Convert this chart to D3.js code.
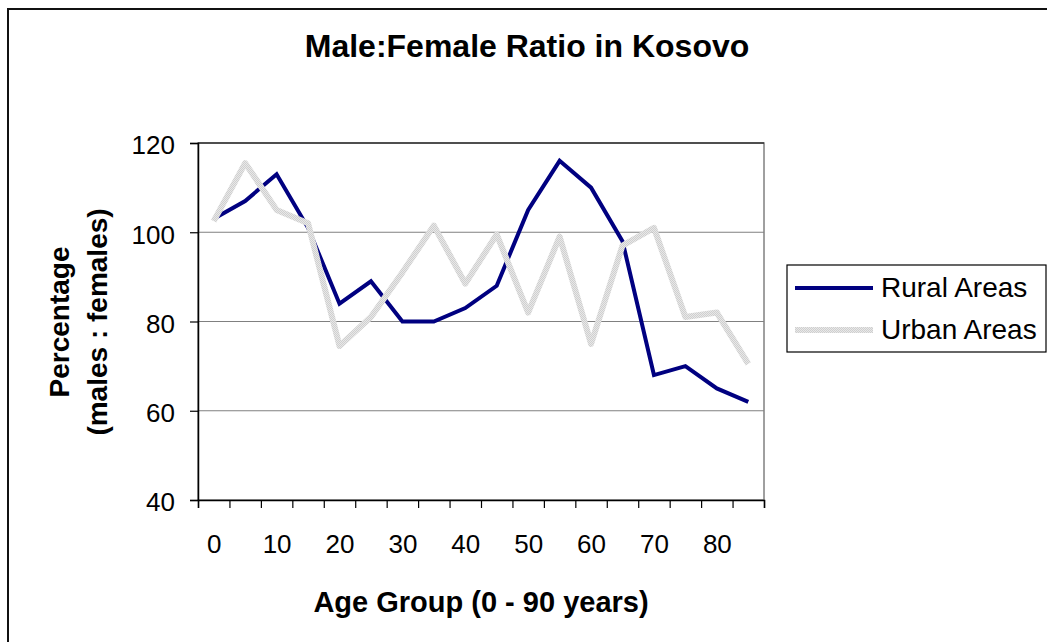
<!DOCTYPE html>
<html>
<head>
<meta charset="utf-8">
<script src="https://cdn.jsdelivr.net/npm/d3@7"></script>
<style>
  body { margin: 0; background: #fff; }
  text { font-family: "Liberation Sans", Arial, sans-serif; }
</style>
</head>
<body>
<div id="chart"></div>
<script>
const width = 1047
const height = 642
const margin = { left: 198, right: 283, top: 143, bottom: 142 }

// data
const ageGroups = [0, 5, 10, 15, 20, 25, 30, 35, 40, 45, 50, 55, 60, 65, 70, 75, 80, 85]
const rural = [103, 107, 113, 101, 84, 89, 80, 80, 83, 88, 105, 116, 110, 98, 68, 70, 65, 62]
const urban = [102.5, 115.5, 105, 102, 74.5, 81, 91, 101.5, 88.5, 99.5, 82, 99, 75, 97, 101, 81, 82, 70.5]
const yTicks = [40, 60, 80, 100, 120]
const xLabels = [0, 10, 20, 30, 40, 50, 60, 70, 80]
const seriesNames = ["Rural Areas", "Urban Areas"]
const seriesColors = ["#000080", "url(#hatch)"]

const svg = d3.select("#chart").append("svg").attr("width", width).attr("height", height)

// light grey dotted texture used by the urban series
const pat = svg.append("defs").append("pattern").attr("id", "hatch")
    .attr("patternUnits", "userSpaceOnUse").attr("width", 2).attr("height", 2)
pat.append("rect").attr("width", 2).attr("height", 2).attr("fill", "#e8e8e8")
pat.append("rect").attr("width", 1).attr("height", 1).attr("fill", "#cfcfcf")
pat.append("rect").attr("x", 1).attr("y", 1).attr("width", 1).attr("height", 1).attr("fill", "#cfcfcf")

// chart area frame (runs off the page on right and bottom)
svg.append("rect").attr("x", 8).attr("y", 9).attr("width", 1100).attr("height", 700)
    .attr("fill", "none").attr("stroke", "#111").attr("stroke-width", 2)

const plotW = width - margin.left - margin.right
const plotH = height - margin.top - margin.bottom

var x = d3.scalePoint().domain(ageGroups).range([margin.left, margin.left + plotW]).padding(0.5)
var xEdge = d3.scaleLinear().domain([0, ageGroups.length]).range([margin.left, margin.left + plotW])
var y = d3.scaleLinear().domain([40, 120]).range([margin.top + plotH, margin.top])

// gridlines
svg.append("g").selectAll("line")
    .data(yTicks.slice(1, -1))
    .join("line")
        .attr("x1", margin.left).attr("x2", margin.left + plotW)
        .attr("y1", d => y(d)).attr("y2", d => y(d))
        .attr("stroke", "#808080").attr("stroke-width", 1.2)

// plot area border
svg.append("rect").attr("x", margin.left).attr("y", margin.top).attr("width", plotW).attr("height", plotH)
    .attr("fill", "none").attr("stroke", "#808080").attr("stroke-width", 1.5)
svg.append("line").attr("x1", margin.left).attr("x2", margin.left + plotW)
    .attr("y1", margin.top).attr("y2", margin.top).attr("stroke", "#000").attr("stroke-width", 1.2)

// axes
const yGroup = svg.append("g").attr("transform", `translate(${margin.left},0)`)
    .call(d3.axisLeft(y).tickValues(yTicks).tickSize(8).tickPadding(15))
yGroup.select(".domain").attr("stroke", "#000").attr("stroke-width", 1.5)
yGroup.selectAll(".tick line").attr("stroke", "#000").attr("stroke-width", 1.2)
yGroup.selectAll("text").attr("font-size", 26).attr("fill", "#000").attr("dy", "0.42em")
    .attr("font-family", "Liberation Sans, Arial, sans-serif")

const xTickGroup = svg.append("g").attr("transform", `translate(0,${margin.top + plotH})`)
    .call(d3.axisBottom(xEdge).tickValues(d3.range(ageGroups.length + 1)).tickSize(8).tickFormat(""))
xTickGroup.select(".domain").attr("stroke", "#000").attr("stroke-width", 1.5)
xTickGroup.selectAll(".tick line").attr("stroke", "#000").attr("stroke-width", 1.2)

const xLabelGroup = svg.append("g").attr("transform", `translate(0,${margin.top + plotH})`)
    .call(d3.axisBottom(x).tickValues(xLabels).tickSize(0).tickPadding(35))
xLabelGroup.select(".domain").remove()
xLabelGroup.selectAll("text").attr("font-size", 26).attr("fill", "#000")
    .attr("font-family", "Liberation Sans, Arial, sans-serif")

// series lines
const line = d3.line().x((d, i) => x(ageGroups[i])).y(d => y(d))

svg.append("path").datum(rural)
    .attr("d", line).attr("fill", "none")
    .attr("stroke", seriesColors[0]).attr("stroke-width", 4).attr("stroke-linejoin", "miter")
svg.append("path").datum(urban)
    .attr("d", line).attr("fill", "none")
    .attr("stroke", seriesColors[1]).attr("stroke-width", 6).attr("stroke-linejoin", "round")

// title and axis titles
svg.append("text").text("Male:Female Ratio in Kosovo")
    .attr("x", 527).attr("y", 57).attr("text-anchor", "middle")
    .attr("font-size", 32).attr("font-weight", "bold")

svg.append("text").text("Age Group (0 - 90 years)")
    .attr("x", margin.left + plotW / 2).attr("y", 612).attr("text-anchor", "middle")
    .attr("font-size", 29).attr("font-weight", "bold")

const yTitle = svg.append("text").attr("transform", "translate(0,322) rotate(-90)")
    .attr("text-anchor", "middle").attr("font-size", 28).attr("font-weight", "bold")
yTitle.append("tspan").attr("x", 0).attr("y", 69).text("Percentage")
yTitle.append("tspan").attr("x", 0).attr("y", 107).text("(males : females)")

// legend
const legend = svg.append("g")
legend.append("rect").attr("x", 787).attr("y", 265).attr("width", 259).attr("height", 87)
    .attr("fill", "#fff").attr("stroke", "#000").attr("stroke-width", 1.2)
const item = legend.selectAll("g.item")
    .data(seriesNames)
    .join("g").attr("class", "item")
        .attr("transform", (d, i) => `translate(0,${288 + i * 42})`)
item.append("line")
    .attr("x1", 795).attr("x2", 873).attr("y1", 0).attr("y2", 0)
    .attr("stroke", (d, i) => seriesColors[i])
    .attr("stroke-width", (d, i) => i === 0 ? 4 : 6)
item.append("text").text(d => d)
    .attr("x", 881).attr("y", 9).attr("font-size", 28).attr("fill", "#000")
</script>
</body>
</html>
